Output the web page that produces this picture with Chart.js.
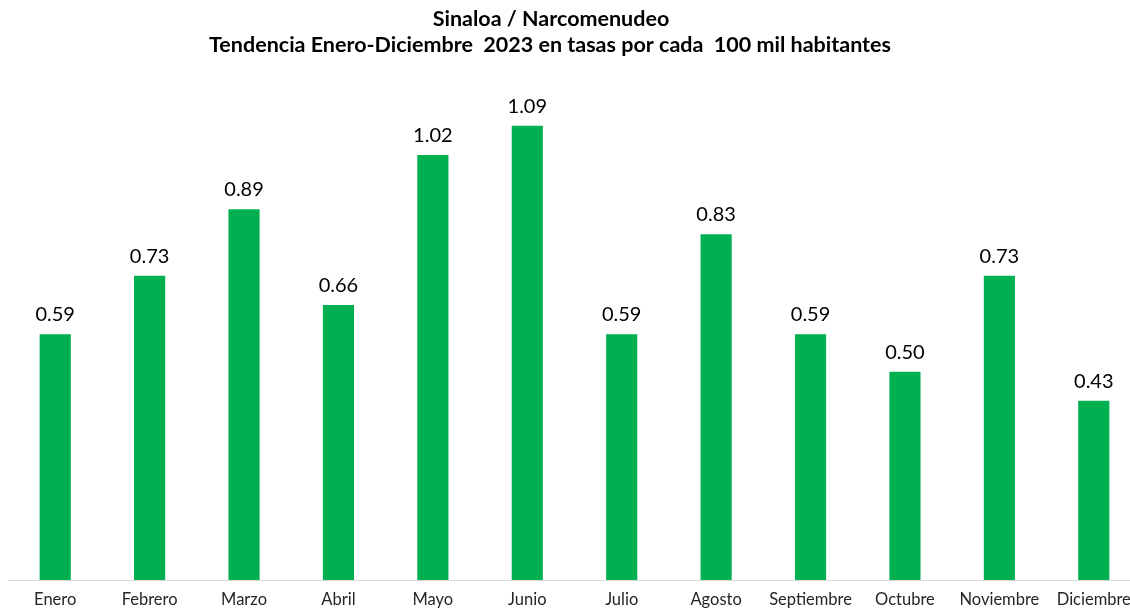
<!DOCTYPE html>
<html lang="es">
<head>
<meta charset="utf-8">
<title>Sinaloa / Narcomenudeo</title>
<script src="https://cdn.jsdelivr.net/npm/chart.js@4.4.1/dist/chart.umd.min.js"></script>
<style>
  html, body { margin: 0; padding: 0; background: #ffffff; overflow: hidden; }
  #wrap { width: 1130px; height: 609px; overflow: hidden; position: relative; }
  canvas { position: absolute; left: 0; top: 0; }
</style>
</head>
<body>
<div id="wrap"><canvas id="chart" width="1141" height="609"></canvas></div>
<script>
// Monthly drug-dealing (narcomenudeo) rate in Sinaloa, 2023, per 100k inhabitants
const months = ['Enero', 'Febrero', 'Marzo', 'Abril', 'Mayo', 'Junio', 'Julio',
                'Agosto', 'Septiembre', 'Octubre', 'Noviembre', 'Diciembre'];
const rates = [0.59, 0.73, 0.89, 0.66, 1.02, 1.09, 0.59, 0.83, 0.59, 0.50, 0.73, 0.43];
const titleLines = ['Sinaloa / Narcomenudeo',
                    'Tendencia Enero-Diciembre  2023 en tasas por cada  100 mil habitantes'];

const FONT = 'Lato, "Open Sans", sans-serif';

// Two-line bold heading
const headingPlugin = {
  id: 'heading',
  afterDraw(chart) {
    const ctx = chart.ctx;
    ctx.save();
    ctx.fillStyle = '#000000';
    ctx.font = 'bold 21.5px ' + FONT;
    ctx.textAlign = 'center';
    ctx.textBaseline = 'middle';
    ctx.fillText(titleLines[0], 551, 19);
    ctx.fillText(titleLines[1], 550, 45);
    ctx.restore();
  }
};

// Value written above each bar
const valueLabels = {
  id: 'valueLabels',
  afterDatasetsDraw(chart) {
    const ctx = chart.ctx;
    const meta = chart.getDatasetMeta(0);
    ctx.save();
    ctx.fillStyle = '#000000';
    ctx.font = '20px ' + FONT;
    ctx.textAlign = 'center';
    ctx.textBaseline = 'alphabetic';
    meta.data.forEach((bar, i) => {
      ctx.fillText(rates[i].toFixed(2), bar.x, bar.y - 13);
    });
    ctx.restore();
  }
};

new Chart(document.getElementById('chart'), {
  type: 'bar',
  data: {
    labels: months,
    datasets: [{
      data: rates,
      backgroundColor: '#00B050',
      borderWidth: 0,
      barPercentage: 0.33,
      categoryPercentage: 1.0
    }]
  },
  options: {
    responsive: false,
    animation: false,
    events: [],
    layout: { padding: { left: 8, right: 0, top: 80, bottom: 0 } },
    plugins: {
      legend: { display: false },
      title: { display: false },
      tooltip: { enabled: false }
    },
    scales: {
      x: {
        grid: { display: false, drawTicks: false },
        border: { display: true, color: '#d9d9d9', width: 1 },
        ticks: {
          color: '#262626',
          font: { family: FONT, size: 16.5 },
          padding: 10,
          maxRotation: 0,
          autoSkip: false
        },
        afterFit(scale) { scale.height = 29; }
      },
      y: {
        display: false,
        min: 0,
        max: 1.2
      }
    }
  },
  plugins: [headingPlugin, valueLabels]
});
</script>
</body>
</html>
